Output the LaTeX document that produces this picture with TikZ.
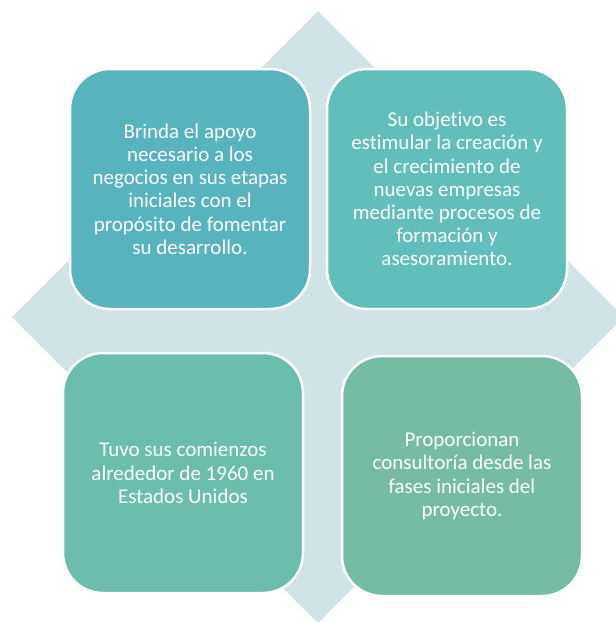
\documentclass[tikz,border=0pt]{standalone}
\usepackage{fontspec}
\setmainfont{Carlito}[Ligatures=NoCommon]
\definecolor{rombo}{HTML}{D0E3E7}
\definecolor{cajauno}{HTML}{57B3BE}
\definecolor{cajados}{HTML}{62BEBA}
\definecolor{cajatres}{HTML}{6BBDAE}
\definecolor{cajacuatro}{HTML}{76BCA5}
\tikzset{
  caja/.style={draw=white,line width=2.5pt,rectangle,rounded corners=40pt,
    minimum width=240pt,minimum height=240pt,align=center,text=white,
    font=\fontsize{21}{23.2}\selectfont}
}
\begin{document}
\begin{tikzpicture}[x=1pt,y=-1pt]
    \useasboundingbox (0,0) rectangle (616,622);
    \clip (0,0) rectangle (616,622);

    % fondo
    \fill[rombo] (318,11) -- (624,317) -- (318,623) -- (12,317) -- cycle;

    \node[caja,fill=cajauno] (brinda) at (190,189) {Brinda el apoyo\\necesario a los\\negocios en sus etapas\\iniciales con el\\propósito de fomentar\\su desarrollo.};
    \node[caja,fill=cajados] (objetivo) at (447,189) {Su objetivo es\\estimular la creación y\\el crecimiento de\\nuevas empresas\\mediante procesos de\\formación y\\asesoramiento.};

    \node[caja,fill=cajatres] (comienzos) at (183,473) {Tuvo sus comienzos\\alrededor de 1960 en\\Estados Unidos};
    \node[caja,fill=cajacuatro] (consultoria) at (462,476) {Proporcionan\\consultoría desde las\\fases iniciales del\\proyecto.};
\end{tikzpicture}
\end{document}
